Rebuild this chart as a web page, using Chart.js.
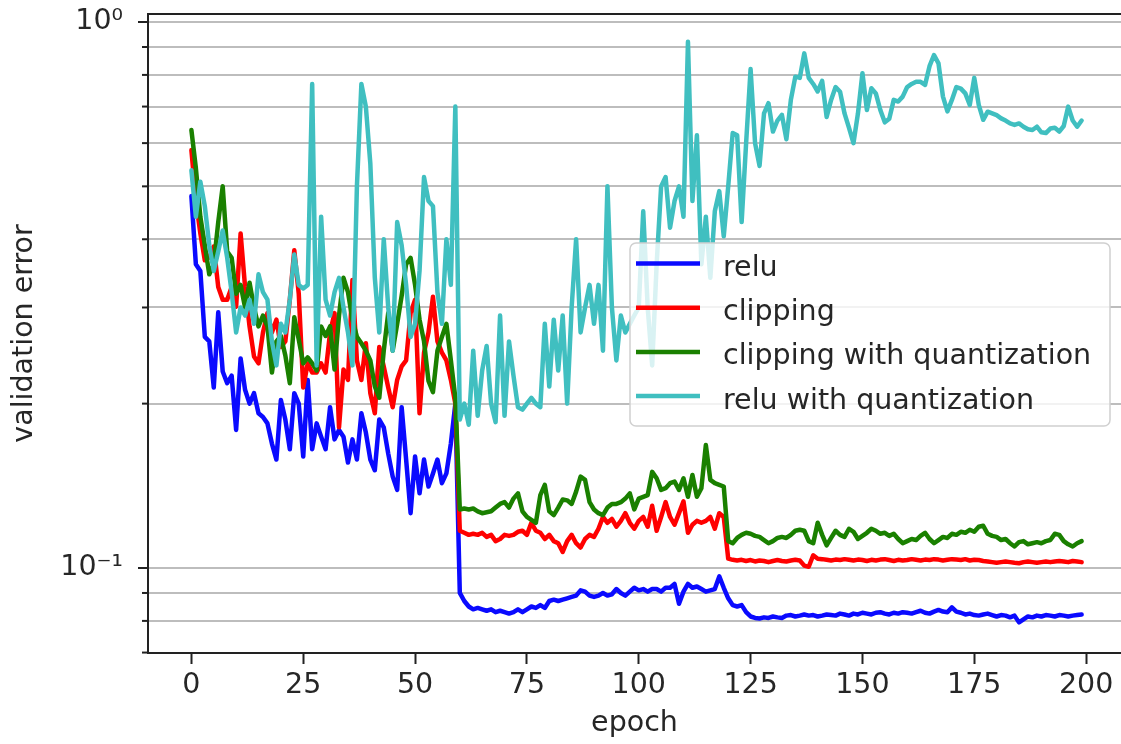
<!DOCTYPE html>
<html>
<head>
<meta charset="utf-8">
<script src="https://cdn.jsdelivr.net/npm/chart.js@4"></script>
<style>
  html, body { margin: 0; padding: 0; background: #fff; }
  #wrap { width: 1121px; height: 744px; }
</style>
</head>
<body>
<div id="wrap"><canvas id="c" width="1121" height="744"></canvas></div>
<script>
// series names as in the legend
const seriesNames = ['relu', 'clipping', 'clipping with quantization', 'relu with quantization'];
const seriesColors = ['#0a0aff', '#ff0000', '#1a8000', '#40bfc0'];

// validation error per epoch (0..199)
const relu = [
  0.48, 0.36, 0.35, 0.265, 0.26, 0.214, 0.294, 0.229, 0.218, 0.225,
  0.179, 0.242, 0.212, 0.2, 0.209, 0.192, 0.189, 0.184, 0.169, 0.158,
  0.203, 0.187, 0.165, 0.209, 0.2, 0.16, 0.221, 0.165, 0.184, 0.174,
  0.165, 0.197, 0.172, 0.179, 0.174, 0.156, 0.172, 0.158, 0.192, 0.177,
  0.158, 0.151, 0.187, 0.181, 0.162, 0.147, 0.139, 0.197, 0.158, 0.126,
  0.16, 0.137, 0.158, 0.141, 0.149, 0.158, 0.143, 0.149, 0.169, 0.2,
  0.090, 0.087, 0.085, 0.084, 0.0845, 0.084, 0.0835, 0.084, 0.083, 0.0835,
  0.083, 0.0825, 0.083, 0.084, 0.083, 0.084, 0.085, 0.0845, 0.0855, 0.0845,
  0.087, 0.0875, 0.087, 0.0875, 0.088, 0.0885, 0.089, 0.091, 0.0905, 0.089,
  0.0885, 0.089, 0.09, 0.089, 0.0895, 0.0915, 0.09, 0.089, 0.0905, 0.092,
  0.091, 0.0915, 0.0905, 0.0915, 0.0915, 0.0905, 0.092, 0.092, 0.0935, 0.086,
  0.0905, 0.0935, 0.092, 0.0925, 0.0915, 0.0905, 0.091, 0.0915, 0.0965, 0.092,
  0.088, 0.0855, 0.085, 0.0855, 0.083, 0.0815, 0.081, 0.0808, 0.0812, 0.081,
  0.0815, 0.0812, 0.081, 0.0818, 0.082, 0.0815, 0.0818, 0.0822, 0.0818, 0.082,
  0.0815, 0.0818, 0.0822, 0.082, 0.0818, 0.0825, 0.0822, 0.0818, 0.0825, 0.0822,
  0.0828, 0.0825, 0.0822, 0.0828, 0.083, 0.0825, 0.0822, 0.0828, 0.0825, 0.083,
  0.0828, 0.0825, 0.083, 0.0835, 0.0828, 0.0825, 0.0832, 0.0838, 0.0832, 0.083,
  0.0847, 0.0832, 0.0828, 0.0822, 0.0825, 0.082, 0.0818, 0.0822, 0.0825, 0.082,
  0.0815, 0.082, 0.0818, 0.0812, 0.0818, 0.0795, 0.0805, 0.0815, 0.0812, 0.0818,
  0.0815, 0.082, 0.0818, 0.0815, 0.082, 0.0818, 0.0815, 0.0818, 0.082, 0.0822
];
const clipping = [
  0.583, 0.472, 0.41, 0.366, 0.371, 0.388, 0.327, 0.31, 0.31, 0.327,
  0.301, 0.41, 0.327, 0.277, 0.244, 0.237, 0.27, 0.293, 0.27, 0.285,
  0.254, 0.26, 0.31, 0.382, 0.318, 0.214, 0.237, 0.228, 0.228, 0.237,
  0.228, 0.27, 0.293, 0.181, 0.231, 0.221, 0.337, 0.24, 0.221, 0.258,
  0.209, 0.192, 0.254, 0.234, 0.214, 0.197, 0.221, 0.234, 0.24, 0.293,
  0.31, 0.192, 0.248, 0.27, 0.314, 0.26, 0.248, 0.24, 0.221, 0.2,
  0.117, 0.116, 0.115, 0.1155, 0.115, 0.116, 0.114, 0.115, 0.112, 0.113,
  0.115, 0.1145, 0.115, 0.1165, 0.117, 0.115, 0.121, 0.117, 0.116, 0.113,
  0.115, 0.112, 0.111, 0.107, 0.112, 0.115, 0.111, 0.109, 0.113, 0.115,
  0.114, 0.118, 0.124, 0.121, 0.123, 0.119, 0.122, 0.126, 0.121, 0.118,
  0.122, 0.124, 0.119, 0.13, 0.117, 0.124, 0.132, 0.124, 0.12, 0.126,
  0.1325, 0.116, 0.12, 0.122, 0.121, 0.122, 0.124, 0.118, 0.126, 0.124,
  0.104, 0.1035, 0.1032, 0.1035, 0.103, 0.1034, 0.1028, 0.1032, 0.103, 0.1025,
  0.103, 0.1034, 0.103, 0.1028, 0.1032, 0.1035, 0.1032, 0.101, 0.1005, 0.1055,
  0.104, 0.1038, 0.1035, 0.1032, 0.1036, 0.1034, 0.1038, 0.1035, 0.1032, 0.1036,
  0.1034, 0.103, 0.1035, 0.1032, 0.1036, 0.1038, 0.1034, 0.103, 0.1035, 0.1032,
  0.1034, 0.1038, 0.1035, 0.1032, 0.1036, 0.1034, 0.1038, 0.1036, 0.1032, 0.1035,
  0.1038, 0.1036, 0.1034, 0.1038, 0.1032, 0.1035, 0.1034, 0.103, 0.1028, 0.1025,
  0.1022, 0.1025, 0.1028, 0.1025, 0.1022, 0.102, 0.1025, 0.1028, 0.1025, 0.1022,
  0.1025, 0.1028, 0.1025, 0.1028, 0.103, 0.1028, 0.1025, 0.103, 0.1028, 0.1025
];
const clippingQuant = [
  0.634, 0.54, 0.44, 0.39, 0.345, 0.36, 0.43, 0.5, 0.38, 0.37,
  0.318, 0.33, 0.3, 0.333, 0.3, 0.277, 0.29, 0.277, 0.228, 0.26,
  0.266, 0.245, 0.218, 0.288, 0.262, 0.237, 0.243, 0.237, 0.23, 0.277,
  0.266, 0.277, 0.231, 0.29, 0.34, 0.32, 0.285, 0.265, 0.258, 0.25,
  0.24, 0.215, 0.205, 0.25, 0.293, 0.25, 0.28, 0.315, 0.36, 0.37,
  0.33, 0.285, 0.26, 0.22, 0.21, 0.25, 0.265, 0.28, 0.24, 0.205,
  0.128, 0.1285, 0.128, 0.1285, 0.127, 0.126, 0.1265, 0.127, 0.129, 0.131,
  0.132, 0.129, 0.134, 0.137, 0.127, 0.124, 0.1225, 0.121, 0.136, 0.142,
  0.127, 0.125, 0.129, 0.1335, 0.133, 0.131, 0.138, 0.147, 0.145, 0.132,
  0.128, 0.126, 0.125, 0.129, 0.131, 0.131, 0.132, 0.134, 0.137, 0.128,
  0.134, 0.135, 0.136, 0.15, 0.146, 0.139, 0.14, 0.143, 0.144, 0.139,
  0.146, 0.135, 0.148, 0.135, 0.14, 0.168, 0.145, 0.143, 0.142, 0.141,
  0.112, 0.111, 0.1135, 0.115, 0.116, 0.1155, 0.1145, 0.114, 0.1125, 0.111,
  0.112, 0.1135, 0.114, 0.1135, 0.115, 0.117, 0.1175, 0.117, 0.112, 0.111,
  0.121, 0.115, 0.11, 0.1135, 0.117, 0.115, 0.114, 0.118, 0.1165, 0.113,
  0.1145, 0.116, 0.118, 0.117, 0.1155, 0.116, 0.1145, 0.1155, 0.113, 0.111,
  0.112, 0.113, 0.1125, 0.1145, 0.116, 0.113, 0.111, 0.1125, 0.114, 0.1135,
  0.1155, 0.115, 0.1165, 0.116, 0.1175, 0.1165, 0.119, 0.1195, 0.1155, 0.1145,
  0.114, 0.1125, 0.113, 0.111, 0.1095, 0.1115, 0.112, 0.1105, 0.111, 0.1115,
  0.111, 0.112, 0.1125, 0.1155, 0.115, 0.112, 0.1105, 0.1095, 0.111, 0.112
];
const reluQuant = [
  0.535, 0.44, 0.51, 0.46, 0.39, 0.35, 0.38, 0.415, 0.37, 0.32,
  0.27, 0.3, 0.29, 0.31, 0.28, 0.345, 0.32, 0.31, 0.26, 0.235,
  0.28, 0.27, 0.31, 0.375, 0.33, 0.325, 0.33, 0.77, 0.235, 0.44,
  0.31, 0.29, 0.32, 0.34, 0.3, 0.27, 0.235, 0.5, 0.77, 0.7,
  0.55, 0.34, 0.27, 0.4, 0.3, 0.25, 0.43, 0.39, 0.33, 0.265,
  0.28, 0.35, 0.52, 0.47, 0.46, 0.32, 0.28, 0.4, 0.33, 0.7,
  0.187, 0.2, 0.183, 0.25, 0.19, 0.23, 0.255, 0.2, 0.185, 0.29,
  0.19, 0.26, 0.225, 0.197, 0.195, 0.2, 0.205, 0.2, 0.197, 0.28,
  0.215, 0.285, 0.23, 0.29, 0.2, 0.3, 0.4, 0.27, 0.3, 0.33,
  0.28, 0.33, 0.25, 0.5, 0.3, 0.24, 0.29, 0.27, 0.28, 0.29,
  0.3, 0.45, 0.3, 0.235, 0.36, 0.5, 0.52, 0.42, 0.47, 0.5,
  0.44, 0.92, 0.47, 0.62, 0.36, 0.44, 0.34, 0.45, 0.49, 0.405,
  0.5, 0.626, 0.62, 0.43, 0.6, 0.82, 0.6, 0.545, 0.68, 0.71,
  0.63, 0.66, 0.676, 0.61, 0.72, 0.794, 0.79, 0.876, 0.79, 0.77,
  0.746, 0.78, 0.67, 0.72, 0.76, 0.745, 0.68, 0.64, 0.6, 0.68,
  0.806, 0.69, 0.756, 0.74, 0.69, 0.655, 0.665, 0.72, 0.715, 0.73,
  0.76, 0.77, 0.777, 0.777, 0.767, 0.83, 0.87, 0.84, 0.73, 0.686,
  0.72, 0.76, 0.755, 0.74, 0.705, 0.79, 0.705, 0.662, 0.685, 0.68,
  0.675, 0.666, 0.66, 0.652, 0.648, 0.652, 0.643, 0.636, 0.634, 0.643,
  0.628, 0.626, 0.638, 0.64, 0.63, 0.645, 0.7, 0.66, 0.643, 0.66
];

const xTicks = [0, 25, 50, 75, 100, 125, 150, 175, 200];
const yTicks = [0.07, 0.08, 0.09, 0.1, 0.2, 0.3, 0.4, 0.5, 0.6, 0.7, 0.8, 0.9, 1];
const yTickLabels = { '0.1': '10⁻¹', '1': '10⁰' };

Chart.defaults.font.family = '"DejaVu Sans", sans-serif';
Chart.defaults.color = '#262626';

const allSeries = [relu, clipping, clippingQuant, reluQuant];
const toPoints = arr => arr.map((v, i) => ({ x: i, y: v }));

const frameAndLegend = {
  id: 'frameAndLegend',
  afterDraw(chart) {
    const ctx = chart.ctx, a = chart.chartArea;
    ctx.save();
    // top spine (right spine falls outside the picture)
    ctx.strokeStyle = '#222';
    ctx.lineWidth = 2;
    ctx.beginPath();
    ctx.moveTo(a.left - 1, a.top);
    ctx.lineTo(a.right, a.top);
    ctx.stroke();
    // shorter minor ticks on the log axis
    const ys = chart.scales.y;
    ys.ticks.forEach(t => {
      if (yTickLabels[t.value]) return;
      const py = ys.getPixelForValue(t.value);
      ctx.beginPath();
      ctx.moveTo(a.left - 6, py);
      ctx.lineTo(a.left, py);
      ctx.stroke();
    });

    // legend box
    const bx = 630, by = 243, bw = 480, bh = 183;
    ctx.beginPath();
    ctx.roundRect(bx, by, bw, bh, 6);
    ctx.fillStyle = 'rgba(255,255,255,0.8)';
    ctx.fill();
    ctx.strokeStyle = '#d0d0d0';
    ctx.lineWidth = 1.5;
    ctx.stroke();

    ctx.font = '28.5px "DejaVu Sans"';
    ctx.textBaseline = 'alphabetic';
    ctx.textAlign = 'left';
    chart.data.datasets.forEach((ds, i) => {
      const ry = 263.5 + i * 44.2;
      ctx.strokeStyle = ds.borderColor;
      ctx.lineWidth = 4.5;
      ctx.beginPath();
      ctx.moveTo(636, ry);
      ctx.lineTo(700, ry);
      ctx.stroke();
      ctx.fillStyle = '#262626';
      ctx.fillText(ds.label, 723, ry + 12.5);
    });
    ctx.restore();
  }
};

new Chart(document.getElementById('c'), {
  type: 'line',
  data: {
    datasets: seriesNames.map((name, i) => ({
      label: name,
      data: toPoints(allSeries[i]),
      borderColor: seriesColors[i],
      backgroundColor: seriesColors[i],
      borderWidth: 4.5,
      borderJoinStyle: 'round',
      borderCapStyle: 'round',
      pointRadius: 0,
      tension: 0,
      order: 3 - i
    }))
  },
  options: {
    responsive: false,
    animation: false,
    devicePixelRatio: 1,
    events: [],
    layout: { padding: { top: 14, left: 0, right: 0, bottom: 0 }, autoPadding: false },
    plugins: { legend: { display: false }, tooltip: { enabled: false } },
    scales: {
      x: {
        type: 'linear',
        min: -9.7,
        max: 207.8,
        bounds: 'data',
        afterBuildTicks: s => { s.ticks = xTicks.map(v => ({ value: v })); },
        afterFit: s => { s.height = 91; s.paddingLeft = 0; s.paddingRight = 0; },
        grid: { drawOnChartArea: false, tickLength: 11, tickWidth: 2, tickColor: '#222' },
        border: { color: '#222', width: 2 },
        ticks: { autoSkip: false, maxRotation: 0, padding: 4, font: { size: 28.5 }, callback: v => String(v) },
        title: { display: true, text: 'epoch', font: { size: 28.5 }, padding: { top: 0, bottom: 3 } }
      },
      y: {
        type: 'logarithmic',
        min: 0.06987,
        max: 1.0343,
        bounds: 'data',
        afterBuildTicks: s => { s.ticks = yTicks.map(v => ({ value: v })); },
        afterFit: s => { s.width = 148; s.paddingTop = 0; s.paddingBottom = 0; },
        grid: {
          color: '#bdbdbd',
          lineWidth: 2,
          tickLength: 10,
          tickWidth: 2,
          tickColor: c => (c.tick && yTickLabels[c.tick.value]) ? '#222' : 'rgba(0,0,0,0)'
        },
        border: { color: '#222', width: 2 },
        ticks: { autoSkip: false, padding: 15, font: { size: 28.5 }, callback: v => yTickLabels[v] || '' },
        title: { display: true, text: 'validation error', font: { size: 28.5 }, padding: { top: 7, bottom: 0 } }
      }
    }
  },
  plugins: [frameAndLegend]
});
</script>
</body>
</html>
